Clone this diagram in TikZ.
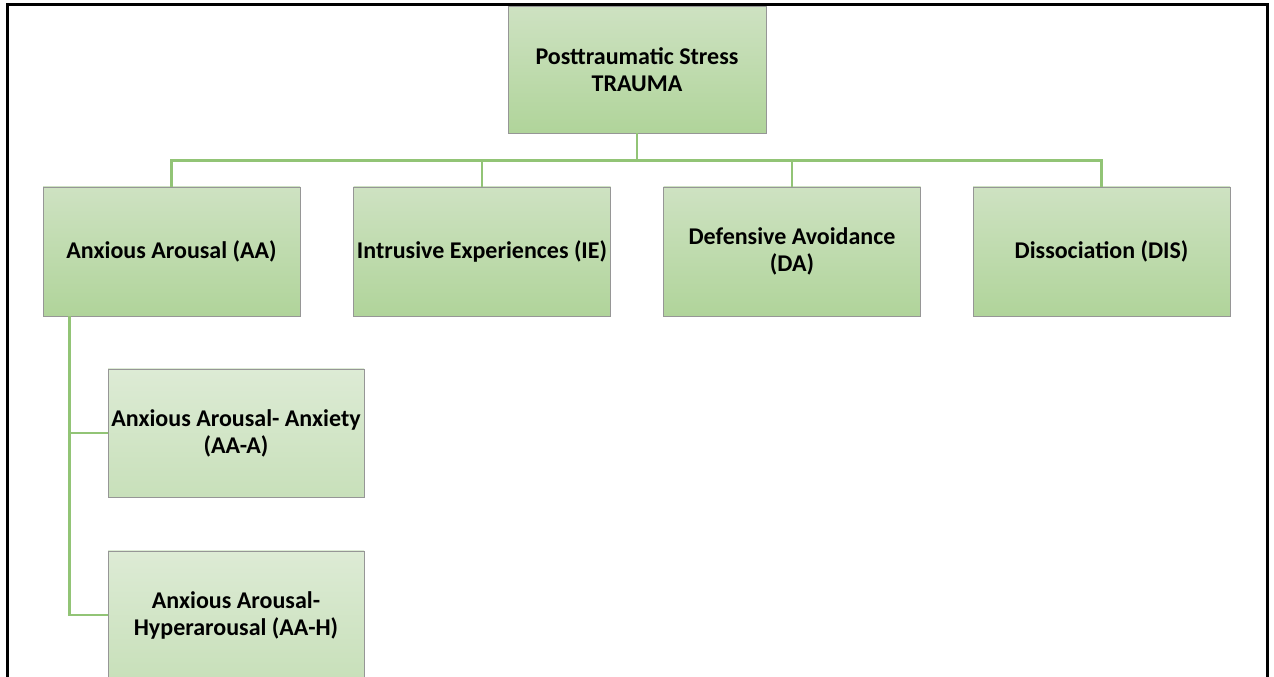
\documentclass[tikz,border=0pt]{standalone}
\usepackage{fontspec}
\setmainfont{Carlito}
\usetikzlibrary{calc}
\begin{document}
\begin{tikzpicture}[x=1pt,y=1pt,
  box/.style={draw=boxColor,line width=0.8pt,rectangle,minimum width=257pt,minimum height=129pt,
    inner sep=0pt,align=center,top color=topColor,bottom color=bottomColor,
    font=\fontsize{24}{27}\selectfont\bfseries},
  subbox/.style={box,minimum width=256pt,minimum height=128pt,top color=subTopColor,bottom color=subBottomColor},
  link/.style={draw=linkColor,line width=2.6pt}]
\definecolor{boxColor}{RGB}{150,150,150}
\definecolor{topColor}{RGB}{206,226,194}
\definecolor{bottomColor}{RGB}{176,212,154}
\definecolor{subTopColor}{RGB}{221,235,213}
\definecolor{subBottomColor}{RGB}{200,224,186}
\definecolor{linkColor}{RGB}{146,196,118}
\definecolor{frameColor}{RGB}{0,0,0}
\path[use as bounding box,fill=white] (0,0) rectangle (1274,677);

% top of the tree
\node[box,minimum width=258pt,minimum height=127pt] (trauma) at (637,607.5) {Posttraumatic Stress\\TRAUMA};

% first level
\node[box] (aa) at ( 171.5,425.5) {Anxious Arousal (AA)};
\node[box] (ie) at ( 482.0,425.5) {Intrusive Experiences (IE)};
\node[box] (da) at ( 792.0,425.5) {Defensive Avoidance\\(DA)};
\node[box] (dis) at (1101.5,425.5) {Dissociation (DIS)};

% second level
\node[subbox] (aaa) at (236,244) {Anxious Arousal- Anxiety\\(AA-A)};
\node[subbox] (aah) at (236, 62) {Anxious Arousal-\\Hyperarousal (AA-H)};

\foreach \child in {aa,ie,da,dis}
  \path[link] (trauma.south) -- ++(0,-27) -| (\child.north);

\path[link] ([xshift=27pt]aa.south west) |- (aaa.west);
\path[link] ([xshift=27pt]aa.south west) |- (aah.west);

% page frame
\path[draw=frameColor,line width=3pt] (7,0) |- (1267,672) -- (1267,0);
\end{tikzpicture}
\end{document}
